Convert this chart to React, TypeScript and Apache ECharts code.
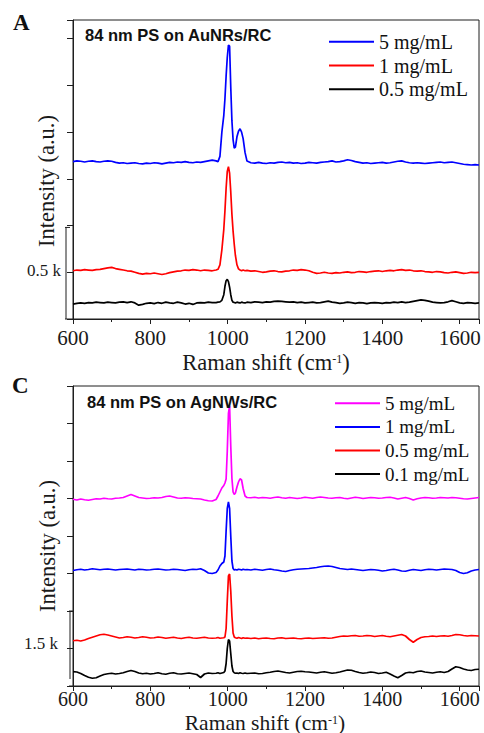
import React, { useEffect, useRef } from "react";
import * as echarts from "echarts";

// ---- shared x grid (Raman shift, cm-1) ----
const RAMAN_SHIFT = [
  600, 610, 620, 630, 640, 650, 660, 670, 680, 690,
  700, 710, 720, 730, 740, 750, 760, 770, 780, 790,
  800, 810, 820, 830, 840, 850, 860, 870, 880, 890,
  900, 910, 920, 930, 940, 950, 960,
  970, 975, 980, 985, 990, 993, 996, 999, 1002, 1005, 1008, 1011, 1014, 1017, 1020, 1024, 1028, 1032, 1036, 1040, 1045, 1050,
  1060, 1070, 1080, 1090, 1100, 1110, 1120, 1130, 1140, 1150,
  1160, 1170, 1180, 1190, 1200, 1210, 1220, 1230, 1240, 1250,
  1260, 1270, 1280, 1290, 1300, 1310, 1320, 1330, 1340, 1350,
  1360, 1370, 1380, 1390, 1400, 1410, 1420, 1430, 1440, 1450,
  1460, 1470, 1480, 1490, 1500, 1510, 1520, 1530, 1540, 1550,
  1560, 1570, 1580, 1590, 1600, 1610, 1620, 1630, 1640, 1650,
];

// ---- Panel A: 84 nm PS on AuNRs/RC ----
const A_NAMES = ["5 mg/mL", "1 mg/mL", "0.5 mg/mL"];
const A_5MG = [
  842, 846, 844, 840, 844, 846, 842, 840, 844, 846,
  844, 838, 834, 836, 832, 834, 836, 832, 830, 834,
  832, 836, 834, 830, 834, 838, 836, 840, 838, 842,
  838, 836, 840, 838, 842, 846, 850,
  846, 842, 870, 1000, 1090, 1180, 1300, 1400, 1466, 1460, 1240, 1060, 960, 915, 920, 975, 1005, 1018, 1000, 965, 890, 845,
  836, 834, 838, 834, 832, 836, 834, 838, 840, 836,
  838, 834, 836, 832, 834, 838, 836, 834, 838, 840,
  842, 846, 840, 842, 846, 852, 848, 842, 838, 834,
  836, 832, 834, 836, 838, 834, 836, 840, 844, 846,
  840, 836, 834, 836, 834, 832, 834, 836, 838, 840,
  836, 838, 840, 836, 832, 828, 826, 824, 826, 824,
];
const A_1MG = [
  258, 262, 260, 264, 262, 260, 264, 266, 270, 274,
  276, 270, 266, 262, 258, 256, 250, 244, 240, 244,
  242, 246, 242, 238, 242, 248, 252, 256, 258, 262,
  260, 264, 262, 258, 262, 260, 258,
  262, 266, 290, 370, 480, 580, 700, 790, 815, 780, 680, 560, 470, 400, 340, 290, 268, 262, 258, 262, 258, 260,
  256, 258, 254, 250, 252, 256, 258, 254, 252, 256,
  258, 262, 260, 264, 262, 258, 250, 244, 246, 250,
  246, 244, 248, 246, 250, 252, 248, 250, 254, 252,
  250, 254, 256, 258, 254, 258, 260, 258, 262, 264,
  260, 262, 258, 256, 258, 254, 252, 250, 254, 252,
  248, 246, 250, 252, 248, 244, 246, 250, 248, 250,
];
const A_05MG = [
  80, 84, 86, 84, 88, 86, 90, 88, 86, 90,
  88, 86, 90, 92, 88, 92, 86, 74, 78, 84,
  86, 82, 88, 84, 90, 86, 84, 90, 86, 80,
  84, 78, 86, 88, 86, 90, 88,
  88, 90, 92, 100, 130, 175, 205, 212, 200, 170, 130, 100, 90, 88, 86, 90, 88, 86, 90, 88, 86, 90,
  88, 92, 90, 88, 92, 90, 94, 96, 94, 92,
  90, 92, 88, 90, 86, 88, 90, 86, 88, 92,
  96, 90, 88, 84, 86, 90, 88, 84, 88, 86,
  82, 86, 88, 86, 84, 88, 86, 90, 88, 92,
  88, 90, 94, 98, 102, 100, 96, 90, 88, 86,
  88, 92, 98, 92, 86, 84, 88, 86, 84, 86,
];

// ---- Panel C: 84 nm PS on AgNWs/RC ----
const C_NAMES = ["5 mg/mL", "1 mg/mL", "0.5 mg/mL", "0.1 mg/mL"];
const C_5MG = [
  3735, 3720, 3740, 3725, 3715, 3730, 3745, 3740, 3755, 3745,
  3740, 3755, 3760, 3770, 3800, 3830, 3800, 3770, 3760, 3750,
  3755, 3765, 3760, 3770, 3790, 3800, 3780, 3760, 3755, 3765,
  3760, 3750, 3745, 3740, 3720, 3705, 3700,
  3730, 3800, 3880, 3960, 4010, 4060, 4140, 4700, 5450, 5600, 4800, 4150, 3880, 3830, 3860, 3980, 4080, 4145, 4120, 3950, 3800, 3770,
  3765, 3775, 3760, 3770, 3765, 3755, 3770, 3780, 3765, 3755,
  3770, 3760, 3750, 3760, 3775, 3765, 3755, 3770, 3780, 3770,
  3760, 3755, 3765, 3770, 3755, 3745, 3760, 3775, 3765, 3750,
  3760, 3770, 3765, 3755, 3760, 3770, 3775, 3760, 3740, 3755,
  3770, 3750, 3720, 3745, 3760, 3770, 3765, 3755, 3760, 3770,
  3765, 3760, 3770, 3765, 3755, 3745, 3740, 3750, 3760, 3770,
];
const C_1MG = [
  2310, 2325, 2335, 2320, 2330, 2345, 2335, 2325, 2335, 2340,
  2330, 2320, 2330, 2335, 2340, 2330, 2320, 2335, 2330, 2320,
  2325, 2335, 2340, 2330, 2320, 2325, 2335, 2330, 2320, 2310,
  2325, 2335, 2330, 2345, 2310, 2260, 2250,
  2270, 2320, 2400, 2450, 2480, 2600, 3100, 3550, 3680, 3550, 3000, 2500, 2350, 2320, 2330, 2320, 2335, 2330, 2320, 2335, 2325, 2330,
  2320, 2335, 2325, 2315, 2330, 2340, 2325, 2315, 2300, 2290,
  2310, 2325, 2335, 2340, 2345, 2350, 2360, 2370, 2385, 2395,
  2400, 2390, 2370, 2350, 2340, 2330, 2340, 2330, 2320, 2310,
  2320, 2330, 2325, 2315, 2300, 2310, 2325, 2335, 2320, 2300,
  2295, 2315, 2330, 2320, 2310, 2325, 2335, 2330, 2320, 2330,
  2340, 2335, 2330, 2310, 2270, 2250, 2265, 2300, 2320, 2330,
];
const C_05MG = [
  905, 915, 900, 920, 950, 975, 1000, 1025, 1035, 1020,
  1000, 980, 960, 970, 985, 975, 960, 970, 985, 975,
  960, 965, 980, 970, 955, 965, 975, 960, 950, 965,
  975, 960, 955, 965, 975, 960, 955,
  960, 970, 955, 960, 965, 980, 1150, 1700, 2200, 2240, 1900, 1400, 1060, 980, 965, 955, 970, 960, 950, 965, 955, 960,
  950, 960, 945, 955, 960, 950, 945, 960, 965, 950,
  955, 960, 950, 945, 955, 960, 950, 955, 960, 965,
  955, 960, 975, 990, 1000, 995, 1005, 1010, 995, 1000,
  1010, 1005, 990, 1000, 1010, 995, 985, 1000, 1015, 1030,
  1000, 930, 875, 930, 970, 985, 990, 1000, 990, 1000,
  1005, 995, 1010, 1030, 1025, 1010, 1000, 1010, 1005, 1000,
];
const C_01MG = [
  287, 280, 250, 210, 175, 155, 165, 200, 230, 245,
  255, 240, 250, 265, 290, 310, 290, 260, 245, 255,
  240, 250, 265, 245, 235, 255, 265, 245, 240, 250,
  260, 245, 230, 170, 240, 260, 250,
  255, 265, 250, 260, 270, 300, 450, 750, 930, 900, 650, 400, 290, 265, 255, 260, 250, 265, 255, 250, 260, 250,
  255, 260, 245, 250, 265, 275, 290, 300, 285, 270,
  260, 275, 290, 295, 285, 280, 270, 260, 275, 285,
  270, 255, 265, 280, 300, 320, 315, 290, 270, 255,
  265, 280, 270, 250, 260, 275, 240, 200, 165, 210,
  260, 275, 265, 290, 300, 280, 270, 260, 275, 285,
  270, 290, 340, 385, 370, 340, 320, 310, 330, 335,
];

const SERIF = "Liberation Serif";
const SANS = "Liberation Sans";
const AXIS = "#1e1e1e";

type SeriesDef = { name: string; color: string; values: number[] };
type PanelCfg = {
  offsetTop: number;
  height: number;
  gridTop: number;
  gridHeight: number;
  yMax: number;
  yInterval: number;
  letter: string;
  letterX: number;
  letterY: number;
  title: string;
  titleX: number;
  titleY: number;
  legendLeft: number;
  legendTop: number;
  legendFont: number;
  legendGap: number;
  yNameX: number;
  yNameY: number;
  xNameX: number;
  xNameY: number;
  xNameFont: number;
  labelFont: number;
  labelMargin: number;
  barX: number;
  barFrom: number;
  barTo: number;
  barLabel: string;
  barLabelX: number;
  barLabelY: number;
  series: SeriesDef[];
};

const PANEL_A: PanelCfg = {
  offsetTop: 0,
  height: 376,
  gridTop: 20,
  gridHeight: 299,
  yMax: 1600,
  yInterval: 250,
  letter: "A",
  letterX: 13,
  letterY: 22.5,
  title: "84 nm PS on AuNRs/RC",
  titleX: 85,
  titleY: 35,
  legendLeft: 329,
  legendTop: 31.7,
  legendFont: 20,
  legendGap: 3.8,
  yNameX: 46,
  yNameY: 181,
  xNameX: 266,
  xNameY: 362,
  xNameFont: 22.5,
  labelFont: 21,
  labelMargin: 11,
  barX: 66,
  barFrom: 0,
  barTo: 490,
  barLabel: "0.5 k",
  barLabelX: 61,
  barLabelY: 270,
  series: [
    { name: A_NAMES[0], color: "#0000ff", values: A_5MG },
    { name: A_NAMES[1], color: "#ff0000", values: A_1MG },
    { name: A_NAMES[2], color: "#000000", values: A_05MG },
  ],
};

const PANEL_C: PanelCfg = {
  offsetTop: 364,
  height: 369,
  gridTop: 22,
  gridHeight: 300,
  yMax: 6000,
  yInterval: 750,
  letter: "C",
  letterX: 12,
  letterY: 21,
  title: "84 nm PS on AgNWs/RC",
  titleX: 87,
  titleY: 37.5,
  legendLeft: 335,
  legendTop: 29.3,
  legendFont: 19,
  legendGap: 3.6,
  yNameX: 47,
  yNameY: 182,
  xNameX: 265,
  xNameY: 358.5,
  xNameFont: 21.5,
  labelFont: 20,
  labelMargin: 5,
  barX: 70,
  barFrom: 140,
  barTo: 1500,
  barLabel: "1.5 k",
  barLabelX: 58,
  barLabelY: 279.3,
  series: [
    { name: C_NAMES[0], color: "#ff00ff", values: C_5MG },
    { name: C_NAMES[1], color: "#0000ff", values: C_1MG },
    { name: C_NAMES[2], color: "#ff0000", values: C_05MG },
    { name: C_NAMES[3], color: "#000000", values: C_01MG },
  ],
};

function Panel({ cfg }: { cfg: PanelCfg }) {
  const ref = useRef<HTMLDivElement>(null);
  useEffect(() => {
    const el = ref.current;
    if (!el) return;
    const chart = echarts.init(el, undefined, { renderer: "svg" });
    chart.setOption({
      animation: false,
      backgroundColor: "transparent",
      grid: {
        left: 73,
        top: cfg.gridTop,
        width: 406,
        height: cfg.gridHeight,
        show: true,
        borderColor: AXIS,
        borderWidth: 1,
        backgroundColor: "transparent",
      },
      xAxis: {
        type: "value",
        min: 600,
        max: 1650,
        interval: 200,
        axisLine: { show: true, lineStyle: { color: AXIS, width: 1 } },
        axisTick: { show: true, inside: false, length: 5, lineStyle: { color: AXIS } },
        minorTick: { show: true, splitNumber: 2, length: 3, lineStyle: { color: AXIS } },
        splitLine: { show: false },
        minorSplitLine: { show: false },
        axisLabel: {
          show: true,
          fontFamily: SERIF,
          fontSize: cfg.labelFont,
          lineHeight: 16,
          color: "#1a1a1a",
          margin: cfg.labelMargin,
          formatter: (v: number) => (v % 200 === 0 ? String(v) : ""),
        },
      },
      yAxis: {
        type: "value",
        min: 0,
        max: cfg.yMax,
        interval: cfg.yInterval,
        axisLine: { show: true, lineStyle: { color: AXIS, width: 1 } },
        axisTick: { show: true, inside: false, length: 6, lineStyle: { color: AXIS } },
        axisLabel: { show: false },
        splitLine: { show: false },
      },
      legend: {
        orient: "vertical",
        left: cfg.legendLeft,
        top: cfg.legendTop,
        padding: 0,
        icon: "rect",
        itemWidth: 45,
        itemHeight: 2,
        itemGap: cfg.legendGap,
        selectedMode: false,
        data: cfg.series.map((s) => s.name),
        textStyle: {
          fontFamily: SERIF,
          fontSize: cfg.legendFont,
          lineHeight: 20,
          color: "#111",
        },
      },
      series: cfg.series.map((s) => ({
        type: "line",
        name: s.name,
        data: RAMAN_SHIFT.map((x, i) => [x, s.values[i]]),
        symbol: "none",
        showSymbol: false,
        lineStyle: { color: s.color, width: 1.7 },
        itemStyle: { color: s.color },
        z: 3,
      })),
    });

    const p0 = chart.convertToPixel({ gridIndex: 0 }, [600, 0]) as number[];
    const pb0 = chart.convertToPixel({ gridIndex: 0 }, [600, cfg.barFrom]) as number[];
    const pb1 = chart.convertToPixel({ gridIndex: 0 }, [600, cfg.barTo]) as number[];
    const axisY = p0[1];
    const axisX = p0[0];

    chart.setOption({
      graphic: [
        {
          type: "text",
          id: "letter",
          x: cfg.letterX,
          y: cfg.letterY,
          style: {
            text: cfg.letter,
            fontFamily: SERIF,
            fontWeight: "bold",
            fontSize: 23,
            fill: "#111",
            align: "left",
            verticalAlign: "middle",
          },
        },
        {
          type: "text",
          id: "title",
          x: cfg.titleX,
          y: cfg.titleY,
          z: 10,
          style: {
            text: cfg.title,
            fontFamily: SANS,
            fontWeight: "bold",
            fontSize: 16.5,
            fill: "#111",
            align: "left",
            verticalAlign: "middle",
          },
        },
        {
          type: "text",
          id: "yname",
          x: cfg.yNameX,
          y: cfg.yNameY,
          rotation: Math.PI / 2,
          style: {
            text: "Intensity (a.u.)",
            fontFamily: SERIF,
            fontSize: 22.5,
            fill: "#1a1a1a",
            align: "center",
            verticalAlign: "middle",
          },
        },
        {
          type: "text",
          id: "xname",
          x: cfg.xNameX,
          y: cfg.xNameY,
          style: {
            text: "{a|Raman shift (cm}{b|-1}{a|)}",
            align: "center",
            verticalAlign: "middle",
            rich: {
              a: { fontFamily: SERIF, fontSize: cfg.xNameFont, lineHeight: 18, fill: "#1a1a1a", verticalAlign: "middle" },
              b: { fontFamily: SERIF, fontSize: 12, lineHeight: 18, fill: "#1a1a1a", verticalAlign: "top" },
            },
          },
        },
        {
          type: "line",
          id: "bar",
          shape: { x1: cfg.barX, y1: pb0[1], x2: cfg.barX, y2: pb1[1] },
          style: { stroke: AXIS, lineWidth: 1 },
        },
        {
          type: "line",
          id: "barcap",
          shape: { x1: cfg.barX - 1, y1: pb1[1], x2: cfg.barX + 4, y2: pb1[1] },
          style: { stroke: AXIS, lineWidth: 1 },
        },
        {
          type: "line",
          id: "axisext",
          shape: { x1: cfg.barX - 1, y1: axisY, x2: axisX, y2: axisY },
          style: { stroke: AXIS, lineWidth: 1 },
        },
        {
          type: "text",
          id: "barlabel",
          x: cfg.barLabelX,
          y: cfg.barLabelY,
          style: {
            text: cfg.barLabel,
            fontFamily: SERIF,
            fontSize: 17,
            fill: "#1a1a1a",
            align: "right",
            verticalAlign: "middle",
          },
        },
      ],
    });

    return () => chart.dispose();
  }, [cfg]);

  return (
    <div
      ref={ref}
      style={{ position: "absolute", left: 0, top: cfg.offsetTop, width: 484, height: cfg.height }}
    />
  );
}

export default function App() {
  return (
    <div style={{ position: "absolute", left: 0, top: 0, width: 484, height: 733, background: "#fff", overflow: "hidden" }}>
      <Panel cfg={PANEL_A} />
      <Panel cfg={PANEL_C} />
    </div>
  );
}
